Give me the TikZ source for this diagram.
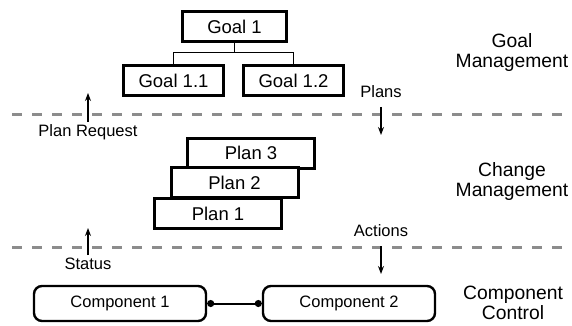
\documentclass[tikz,border=0pt]{standalone}
\usepackage{fontspec}
\setmainfont{Liberation Sans}
\usetikzlibrary{arrows.meta}
\begin{document}
\begin{tikzpicture}[x=1pt,y=-1pt,
  box/.style={draw=black,fill=white,line width=3pt,inner sep=0pt,
    minimum height=30pt,font=\fontsize{18.5}{20}\selectfont},
  goalbox/.style={box,minimum width=100pt},
  planbox/.style={box,minimum width=127pt},
  compbox/.style={draw=black,fill=white,line width=2.4pt,rounded corners=8pt,
    minimum width=172pt,minimum height=35pt,inner sep=0pt,
    font=\fontsize{16.5}{18}\selectfont},
  layer/.style={align=center,inner sep=0pt,font=\fontsize{19.3}{20}\selectfont},
  small/.style={inner sep=0pt,font=\fontsize{16.5}{18}\selectfont},
  sep/.style={draw=black!45,line width=3pt,dash pattern=on 10pt off 10pt},
  flow/.style={line width=1.2pt,-{Stealth[length=8pt,width=6pt]}},
  tree/.style={line width=1pt}
]
\useasboundingbox (0,0) rectangle (572,326);

% separators
\coordinate (d1a) at (12,114);
\coordinate (d1b) at (572,114);
\coordinate (d2a) at (12,247);
\coordinate (d2b) at (572,247);
\draw[sep] (d1a) -- (d1b);
\draw[sep] (d2a) -- (d2b);

% goals
\node[goalbox,minimum width=104pt] (g1) at (234.5,26.5) {Goal 1};
\node[goalbox] (g11) at (173.5,81) {Goal 1.1};
\node[goalbox] (g12) at (293.5,81) {Goal 1.2};
\draw[tree] (g1.south) -- ++(0,10) coordinate (gj) -| (g11.north);
\draw[tree] (gj) -| (g12.north);

% plans
\node[planbox] (p3) at (251,153) {Plan 3};
\node[planbox] (p2) at (234.5,182.5) {Plan 2};
\node[planbox] (p1) at (218,213.5) {Plan 1};

% components
\node[compbox] (c1) at (120,303.5) {Component 1};
\node[compbox] (c2) at (349,303.5) {Component 2};
\draw[line width=2pt,{Circle[length=7pt]}-{Circle[length=7pt]}] (c1.east) -- (c2.west);

% layer labels
\node[layer] (lg) at (512,53) {Goal\\Management};
\node[layer] (lc) at (512,182) {Change\\Management};
\node[layer] (lk) at (513,303) {Component\\Control};

% flows
\coordinate (pra) at (88,122);
\coordinate (prb) at (88,93);
\draw[flow] (pra) -- (prb);
\node[small] (prl) at (88,132) {Plan Request};

\coordinate (pla) at (381,107);
\coordinate (plb) at (381,135);
\draw[flow] (pla) -- (plb);
\node[small] (pll) at (381,92) {Plans};

\coordinate (sta) at (88,255);
\coordinate (stb) at (88,228);
\draw[flow] (sta) -- (stb);
\node[small] (stl) at (88,264) {Status};

\coordinate (aca) at (381,246);
\coordinate (acb) at (381,274);
\draw[flow] (aca) -- (acb);
\node[small] (acl) at (381,231) {Actions};
\end{tikzpicture}
\end{document}
